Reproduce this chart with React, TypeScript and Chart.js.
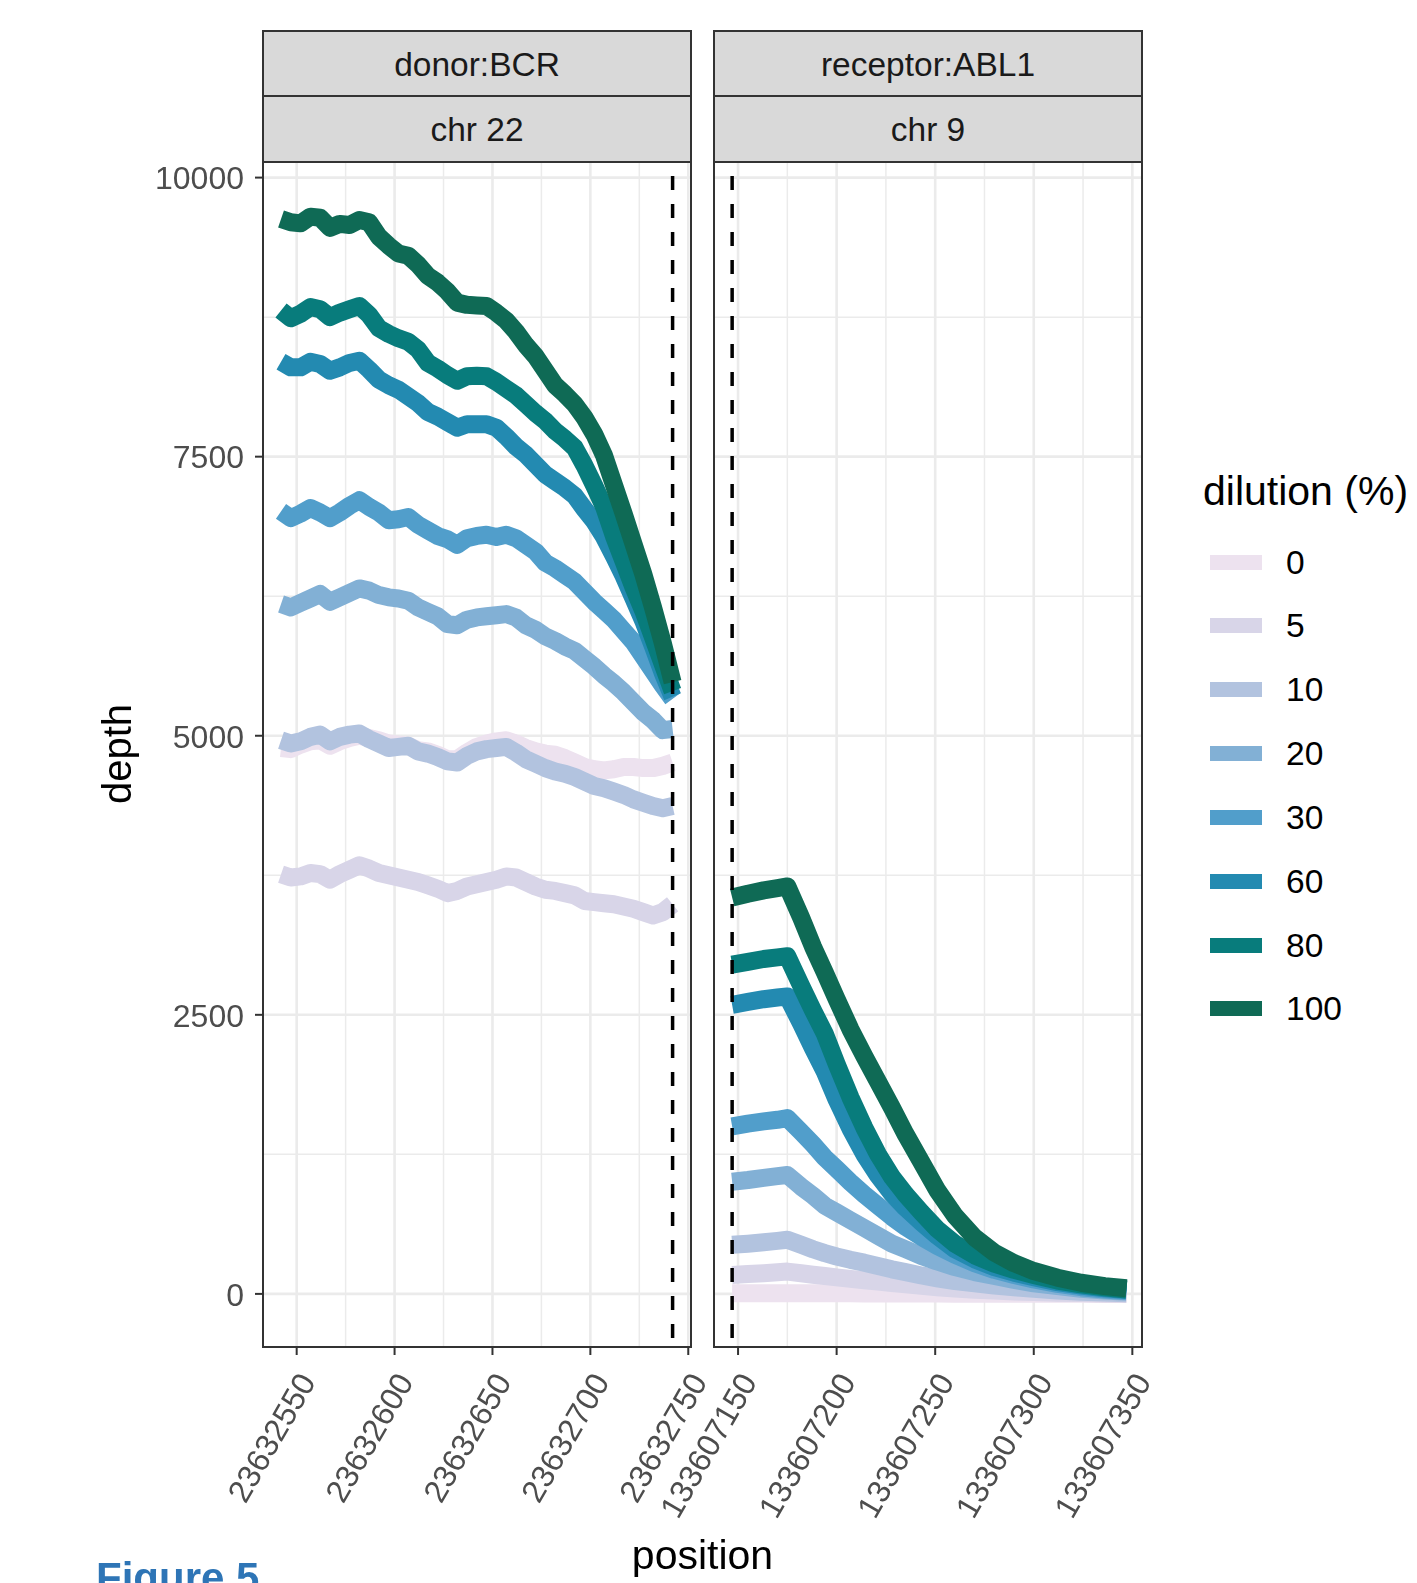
import React, { useEffect, useRef } from "react";
import { Chart, registerables } from "chart.js";

Chart.register(...registerables);

const FONT = "'Liberation Sans', Arial, Helvetica, sans-serif";
Chart.defaults.font.family = FONT;

// ---------- data ----------
const dilutions = ["0", "5", "10", "20", "30", "60", "80", "100"];
const lineColors = ["#EDE2EF", "#D8D5E8", "#B2C3DF", "#82B0D5", "#519ECB", "#238AB1", "#087C7C", "#0F6A55"];

const donorPositions = [
  23632542, 23632547, 23632552, 23632557, 23632562, 23632567, 23632572, 23632577, 23632582, 23632587,
  23632592, 23632597, 23632602, 23632607, 23632612, 23632617, 23632622, 23632627, 23632632, 23632637,
  23632642, 23632647, 23632652, 23632657, 23632662, 23632667, 23632672, 23632677, 23632682, 23632687,
  23632692, 23632697, 23632702, 23632707, 23632712, 23632717, 23632722, 23632727, 23632732, 23632737,
  23632742,
];

const donor0 = [4890, 4880, 4920, 4950, 4960, 4910, 4950, 4980, 5000, 4980, 4960, 4930, 4920, 4910, 4870, 4860, 4830, 4790, 4790, 4850, 4900, 4930, 4950, 4960, 4930, 4890, 4860, 4840, 4830, 4800, 4760, 4720, 4700, 4690, 4700, 4720, 4720, 4710, 4710, 4730, 4760];
const donor5 = [3760, 3730, 3740, 3770, 3760, 3710, 3760, 3800, 3840, 3810, 3770, 3750, 3730, 3710, 3690, 3660, 3630, 3590, 3610, 3650, 3670, 3690, 3710, 3740, 3730, 3690, 3650, 3620, 3610, 3590, 3570, 3520, 3510, 3500, 3490, 3470, 3450, 3420, 3390, 3420, 3490];
const donor10 = [4960, 4930, 4950, 4990, 5010, 4950, 4990, 5010, 5020, 4970, 4930, 4890, 4900, 4910, 4860, 4840, 4810, 4770, 4760, 4820, 4860, 4880, 4890, 4900, 4850, 4790, 4750, 4710, 4680, 4660, 4630, 4590, 4550, 4530, 4500, 4470, 4430, 4400, 4370, 4350, 4370];
const donor20 = [6180, 6150, 6190, 6230, 6270, 6200, 6240, 6280, 6320, 6300, 6260, 6240, 6230, 6210, 6150, 6110, 6070, 6000, 5990, 6040, 6060, 6070, 6080, 6090, 6060, 5990, 5950, 5890, 5850, 5800, 5760, 5690, 5620, 5540, 5470, 5390, 5300, 5210, 5140, 5050, 5060];
const donor30 = [7010, 6950, 6990, 7040, 7000, 6950, 7000, 7060, 7110, 7050, 7000, 6930, 6940, 6960, 6890, 6840, 6790, 6760, 6710, 6770, 6790, 6800, 6780, 6800, 6770, 6710, 6650, 6550, 6500, 6440, 6380, 6290, 6200, 6120, 6040, 5940, 5840, 5710, 5580, 5450, 5330];
const donor60 = [8350, 8300, 8300, 8350, 8330, 8270, 8300, 8340, 8360, 8280, 8190, 8140, 8100, 8040, 7980, 7900, 7860, 7810, 7760, 7790, 7790, 7790, 7760, 7680, 7590, 7520, 7430, 7340, 7280, 7220, 7150, 7030, 6920, 6780, 6610, 6430, 6230, 6030, 5800, 5560, 5350];
const donor80 = [8810, 8740, 8780, 8840, 8820, 8750, 8790, 8820, 8850, 8770, 8650, 8600, 8560, 8530, 8460, 8340, 8290, 8230, 8180, 8220, 8225, 8220, 8170, 8110, 8050, 7970, 7890, 7820, 7730, 7660, 7580, 7420, 7240, 7050, 6790, 6560, 6330, 6120, 5880, 5640, 5400];
const donor100 = [9630, 9600, 9590, 9650, 9640, 9550, 9585, 9575, 9620, 9600, 9470, 9390, 9320, 9300, 9220, 9120, 9060, 8980, 8880, 8860, 8855, 8850, 8790, 8720, 8620, 8500, 8400, 8270, 8140, 8060, 7970, 7850, 7700, 7510, 7250, 6990, 6720, 6450, 6150, 5830, 5480];

const receptorPositions = [
  133607147, 133607155, 133607163, 133607170, 133607175, 133607182, 133607188, 133607194, 133607200,
  133607207, 133607214, 133607221, 133607228, 133607235, 133607243, 133607251, 133607260, 133607270,
  133607280, 133607290, 133607300, 133607312, 133607324, 133607336, 133607347,
];

const receptor0 = [6, 6, 6, 6, 6, 6, 5, 5, 5, 5, 4, 4, 4, 3, 3, 3, 2, 2, 2, 1, 1, 1, 1, 0, 0];
const receptor5 = [170, 178, 185, 193, 200, 185, 172, 160, 148, 135, 122, 110, 98, 85, 72, 60, 48, 38, 30, 22, 16, 10, 7, 4, 2];
const receptor10 = [440, 450, 462, 475, 485, 440, 400, 365, 335, 305, 280, 250, 220, 195, 165, 140, 115, 95, 75, 60, 45, 30, 20, 12, 5];
const receptor20 = [1005, 1020, 1040, 1055, 1065, 960, 880, 790, 730, 660, 590, 520, 450, 400, 340, 290, 240, 195, 160, 125, 95, 70, 45, 30, 20];
const receptor30 = [1500, 1525, 1545, 1560, 1575, 1450, 1340, 1220, 1120, 1000, 890, 790, 690, 600, 510, 430, 350, 275, 215, 170, 130, 90, 60, 40, 25];
const receptor60 = [2590, 2615, 2640, 2655, 2665, 2420, 2200, 1990, 1740, 1480, 1250, 1060, 900, 770, 640, 520, 400, 310, 240, 190, 150, 105, 75, 50, 35];
const receptor80 = [2950, 2975, 3000, 3015, 3025, 2760, 2540, 2330, 2060, 1760, 1490, 1250, 1050, 890, 730, 580, 450, 345, 270, 215, 170, 120, 85, 60, 40];
const receptor100 = [3550, 3585, 3615, 3635, 3650, 3370, 3110, 2880, 2640, 2370, 2130, 1900, 1670, 1430, 1180, 930, 700, 505, 370, 275, 205, 145, 100, 70, 50];

const donorSeries = [donor0, donor5, donor10, donor20, donor30, donor60, donor80, donor100];
const receptorSeries = [receptor0, receptor5, receptor10, receptor20, receptor30, receptor60, receptor80, receptor100];

const donorBreakpoint = 23632742;
const receptorBreakpoint = 133607147;

const yTicks = [0, 2500, 5000, 7500, 10000];
const yMinorTicks = [1250, 3750, 6250, 8750];
const donorXTicks = [23632550, 23632600, 23632650, 23632700, 23632750];
const donorXMinor = [23632575, 23632625, 23632675, 23632725];
const receptorXTicks = [133607150, 133607200, 133607250, 133607300, 133607350];
const receptorXMinor = [133607175, 133607225, 133607275, 133607325];

const stripTop = ["donor:BCR", "receptor:ABL1"];
const stripBottom = ["chr 22", "chr 9"];

// ---------- layout / style constants ----------
const Y_MIN = -475.7;
const Y_MAX = 10139.7;
const LINE_W = 18;
const PANEL_TOP = 162;
const PANEL_BOTTOM = 1347;
const PAGE_H = 1583;
const TICK_FONT = 32;

function buildDatasets(positions: number[], series: number[][]) {
  const ds = dilutions.map((d, i) => ({
    label: d,
    data: positions.map((p, j) => ({ x: p, y: series[i][j] })),
    borderColor: lineColors[i],
    backgroundColor: lineColors[i],
    borderWidth: LINE_W,
    pointRadius: 0,
    pointHoverRadius: 0,
    borderJoinStyle: "round" as const,
    borderCapStyle: "butt" as const,
    tension: 0,
    fill: false,
  }));
  return ds.reverse(); // first dataset is drawn on top -> 100 on top
}

function makePanelPlugin(cfg: { xTicks: number[]; xMinor: number[]; vline: number; showYTicks: boolean }) {
  return {
    id: "panelDecor",
    beforeDatasetsDraw(chart: any) {
      const { ctx, chartArea: a, scales } = chart;
      const xs = scales.x;
      const ys = scales.y;
      ctx.save();
      ctx.beginPath();
      ctx.rect(a.left, a.top, a.right - a.left, a.bottom - a.top);
      ctx.clip();
      ctx.strokeStyle = "#EBEBEB";
      const vLine = (px: number) => {
        ctx.beginPath();
        ctx.moveTo(px, a.top);
        ctx.lineTo(px, a.bottom);
        ctx.stroke();
      };
      const hLine = (py: number) => {
        ctx.beginPath();
        ctx.moveTo(a.left, py);
        ctx.lineTo(a.right, py);
        ctx.stroke();
      };
      ctx.lineWidth = 1.5;
      cfg.xMinor.forEach((v) => vLine(xs.getPixelForValue(v)));
      yMinorTicks.forEach((v) => hLine(ys.getPixelForValue(v)));
      ctx.lineWidth = 2.6;
      cfg.xTicks.forEach((v) => vLine(xs.getPixelForValue(v)));
      yTicks.forEach((v) => hLine(ys.getPixelForValue(v)));
      ctx.restore();
    },
    afterDatasetsDraw(chart: any) {
      const { ctx, chartArea: a, scales } = chart;
      const xs = scales.x;
      const ys = scales.y;
      ctx.save();
      // dashed breakpoint line
      const bx = xs.getPixelForValue(cfg.vline);
      ctx.strokeStyle = "#000000";
      ctx.lineWidth = 3.5;
      ctx.setLineDash([14, 14]);
      ctx.lineDashOffset = 14;
      ctx.beginPath();
      ctx.moveTo(bx, a.top);
      ctx.lineTo(bx, a.bottom);
      ctx.stroke();
      ctx.setLineDash([]);
      // panel border
      ctx.strokeStyle = "#333333";
      ctx.lineWidth = 2;
      ctx.strokeRect(a.left, a.top, a.right - a.left, a.bottom - a.top);
      // x tick marks
      cfg.xTicks.forEach((v) => {
        const px = xs.getPixelForValue(v);
        ctx.beginPath();
        ctx.moveTo(px, a.bottom);
        ctx.lineTo(px, a.bottom + 8);
        ctx.stroke();
      });
      if (cfg.showYTicks) {
        yTicks.forEach((v) => {
          const py = ys.getPixelForValue(v);
          ctx.beginPath();
          ctx.moveTo(a.left - 8, py);
          ctx.lineTo(a.left, py);
          ctx.stroke();
        });
      }
      // rotated x tick labels
      ctx.font = `${TICK_FONT}px ${FONT}`;
      ctx.fillStyle = "#4D4D4D";
      cfg.xTicks.forEach((v) => {
        const px = xs.getPixelForValue(v);
        ctx.save();
        ctx.translate(px, a.bottom + 8 + 15);
        ctx.rotate(-Math.PI / 3);
        ctx.textAlign = "right";
        ctx.textBaseline = "alphabetic";
        ctx.fillText(String(v), 0, 23);
        ctx.restore();
      });
      ctx.restore();
    },
  };
}

function Panel(props: {
  left: number;
  width: number;
  padLeft: number;
  padRight: number;
  yAxisWidth: number;
  showY: boolean;
  positions: number[];
  series: number[][];
  xMin: number;
  xMax: number;
  xTicks: number[];
  xMinor: number[];
  vline: number;
}) {
  const ref = useRef<HTMLCanvasElement | null>(null);
  useEffect(() => {
    if (!ref.current) return;
    const chart = new Chart(ref.current, {
      type: "line",
      data: { datasets: buildDatasets(props.positions, props.series) as any },
      options: {
        animation: false,
        responsive: false,
        devicePixelRatio: 1,
        events: [],
        layout: { padding: { top: PANEL_TOP, left: props.padLeft, right: props.padRight, bottom: 0 } },
        plugins: { legend: { display: false }, tooltip: { enabled: false }, title: { display: false } },
        scales: {
          x: {
            type: "linear",
            min: props.xMin,
            max: props.xMax,
            grid: { display: false, drawTicks: false },
            border: { display: false },
            ticks: { display: false },
            afterBuildTicks: (s: any) => {
              s.ticks = props.xTicks.map((v) => ({ value: v }));
            },
            afterFit: (s: any) => {
              s.height = PAGE_H - PANEL_BOTTOM;
            },
          },
          y: {
            type: "linear",
            display: props.showY,
            min: Y_MIN,
            max: Y_MAX,
            grid: { display: false, drawTicks: false },
            border: { display: false },
            ticks: {
              display: props.showY,
              color: "#4D4D4D",
              font: { size: TICK_FONT, family: FONT },
              padding: 19,
              labelOffset: 3,
              callback: (v: any) => String(v),
            },
            afterBuildTicks: (s: any) => {
              s.ticks = yTicks.map((v) => ({ value: v }));
            },
            afterFit: (s: any) => {
              s.width = props.yAxisWidth;
            },
          },
        },
      } as any,
      plugins: [makePanelPlugin({ xTicks: props.xTicks, xMinor: props.xMinor, vline: props.vline, showYTicks: props.showY }) as any],
    });
    return () => chart.destroy();
  }, []);
  return (
    <canvas
      ref={ref}
      width={props.width}
      height={PAGE_H}
      style={{ position: "absolute", left: props.left, top: 0, width: props.width, height: PAGE_H }}
    />
  );
}

const stripBase: React.CSSProperties = {
  position: "absolute",
  boxSizing: "border-box",
  border: "2px solid #333333",
  background: "#D9D9D9",
  color: "#1A1A1A",
  fontSize: 33.5,
  display: "flex",
  alignItems: "center",
  justifyContent: "center",
  lineHeight: "34px",
  paddingTop: 2,
};

export default function App() {
  const panelLefts = [262, 713];
  const legendY0 = 562;
  const legendStep = 63.85;
  return (
    <div
      style={{
        position: "fixed",
        left: 0,
        top: 0,
        width: 1417,
        height: PAGE_H,
        overflow: "hidden",
        background: "#ffffff",
        fontFamily: FONT,
      }}
    >
      <Panel
        left={0}
        width={780}
        padLeft={0}
        padRight={89}
        yAxisWidth={263}
        showY={true}
        positions={donorPositions}
        series={donorSeries}
        xMin={23632532.8}
        xMax={23632751.4}
        xTicks={donorXTicks}
        xMinor={donorXMinor}
        vline={donorBreakpoint}
      />
      <Panel
        left={560}
        width={620}
        padLeft={154}
        padRight={38}
        yAxisWidth={0}
        showY={false}
        positions={receptorPositions}
        series={receptorSeries}
        xMin={133607137.8}
        xMax={133607354.9}
        xTicks={receptorXTicks}
        xMinor={receptorXMinor}
        vline={receptorBreakpoint}
      />
      {panelLefts.map((l, i) => (
        <React.Fragment key={i}>
          <div style={{ ...stripBase, left: l, top: 30, width: 430, height: 67 }}>{stripTop[i]}</div>
          <div style={{ ...stripBase, left: l, top: 95, width: 430, height: 68 }}>{stripBottom[i]}</div>
        </React.Fragment>
      ))}
      {/* axis titles */}
      <div
        style={{
          position: "absolute",
          left: 117 - 200,
          top: 754 - 20,
          width: 400,
          height: 40,
          lineHeight: "40px",
          fontSize: 40,
          textAlign: "center",
          color: "#000",
          transform: "rotate(-90deg)",
          transformOrigin: "50% 50%",
        }}
      >
        depth
      </div>
      <div
        style={{
          position: "absolute",
          left: 702.5 - 200,
          top: 1535,
          width: 400,
          height: 41,
          lineHeight: "41px",
          fontSize: 41,
          textAlign: "center",
          color: "#000",
        }}
      >
        position
      </div>
      {/* legend */}
      <div style={{ position: "absolute", left: 1203, top: 471, fontSize: 41, lineHeight: "41px", color: "#000", whiteSpace: "nowrap" }}>
        dilution (%)
      </div>
      {dilutions.map((d, i) => {
        const cy = legendY0 + i * legendStep;
        return (
          <React.Fragment key={d}>
            <div style={{ position: "absolute", left: 1210, top: cy - 7.5, width: 52, height: 15, background: lineColors[i] }} />
            <div style={{ position: "absolute", left: 1286, top: cy - 16.5, fontSize: 33.5, lineHeight: "34px", color: "#000" }}>{d}</div>
          </React.Fragment>
        );
      })}
      <div
        style={{
          position: "absolute",
          left: 96,
          top: 1557,
          fontSize: 42,
          lineHeight: "42px",
          fontWeight: 700,
          color: "#2E75B6",
          whiteSpace: "nowrap",
        }}
      >
        Figure 5
      </div>
    </div>
  );
}
